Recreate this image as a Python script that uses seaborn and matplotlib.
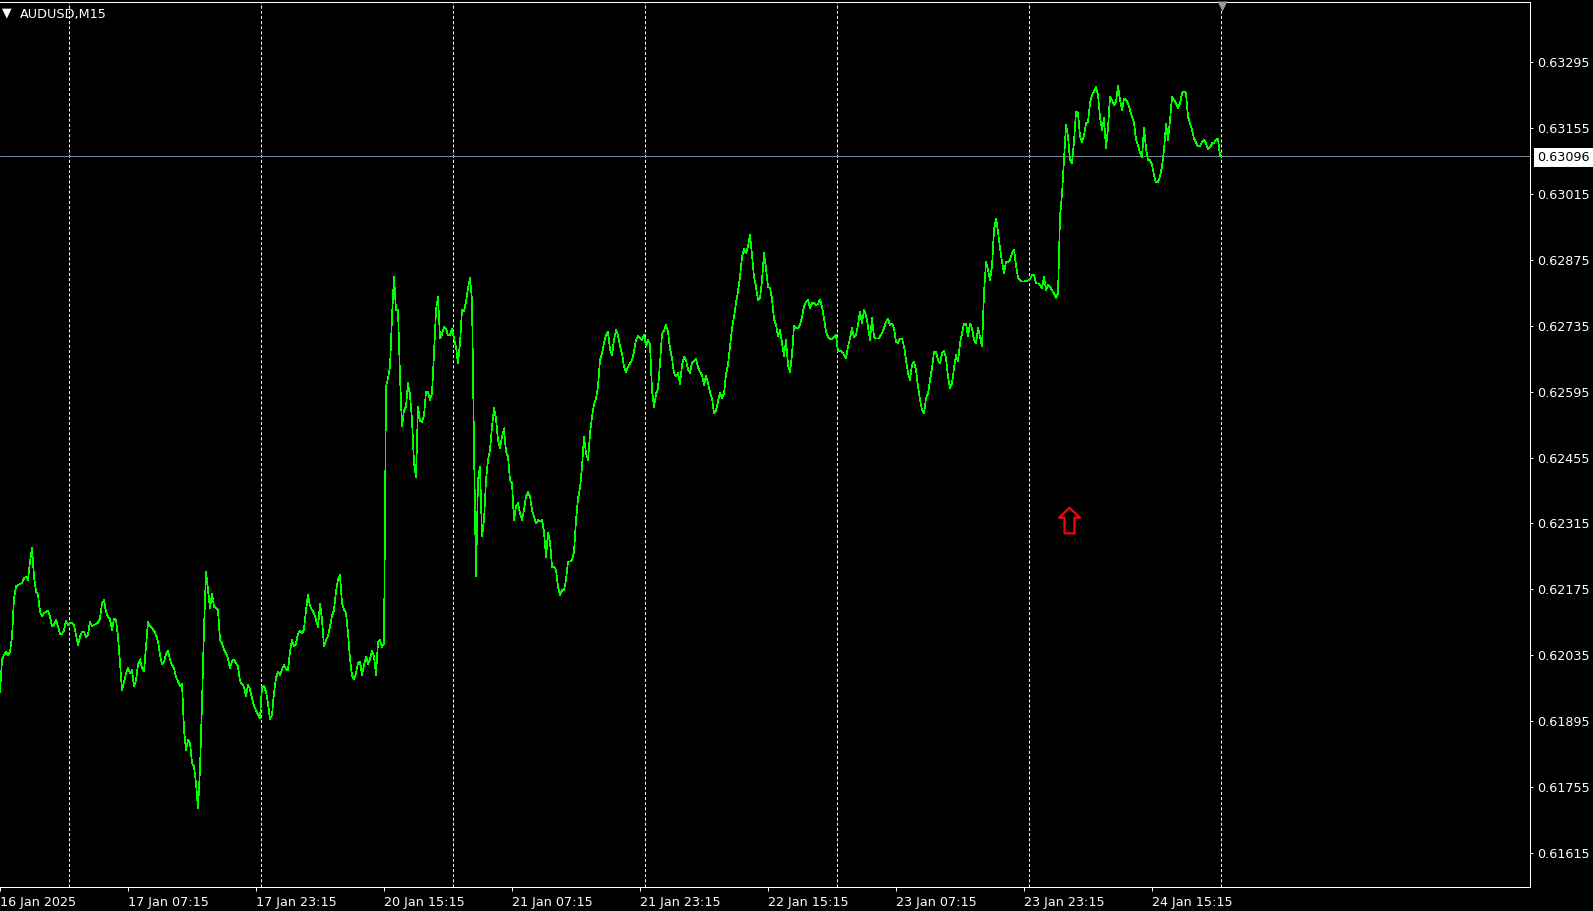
import numpy as np
import pandas as pd
import matplotlib
matplotlib.use("Agg")
import matplotlib.pyplot as plt
import matplotlib.transforms as mtransforms
from matplotlib.path import Path
import seaborn as sns

# ---------------- data ----------------
symbol = "AUDUSD,M15"

# M15 closes, one list per trading day
jan16 = [0.61957, 0.62025, 0.62035, 0.62042, 0.62035, 0.62042, 0.62074, 0.62156, 0.62181, 0.62184,
         0.62186, 0.62188, 0.62198, 0.62202, 0.62195, 0.62234, 0.62262, 0.62202, 0.62170, 0.62163,
         0.62127, 0.62118, 0.62124, 0.62127, 0.62130, 0.62117, 0.62096, 0.62099, 0.62111, 0.62096,
         0.62079, 0.62080, 0.62087, 0.62108, 0.62099]
jan17 = [0.62103, 0.62103, 0.62099, 0.62078, 0.62057,
         0.62074, 0.62085, 0.62085, 0.62074, 0.62078, 0.62106, 0.62097, 0.62099, 0.62101, 0.62104,
         0.62113, 0.62145, 0.62152, 0.62127, 0.62117, 0.62111, 0.62088, 0.62113, 0.62110, 0.62074,
         0.62018, 0.61961, 0.61979, 0.61996, 0.62007, 0.61996, 0.62003, 0.61968, 0.61982, 0.62014,
         0.62026, 0.62007, 0.62000, 0.62053, 0.62106, 0.62096, 0.62092, 0.62087, 0.62078, 0.62064,
         0.62035, 0.62015, 0.62021, 0.62037, 0.62045, 0.62025, 0.62014, 0.62007, 0.61989, 0.61979,
         0.61969, 0.61974, 0.61876, 0.61833, 0.61855, 0.61848, 0.61805, 0.61798, 0.61763, 0.61709,
         0.61794, 0.61933, 0.62092, 0.62212, 0.62173, 0.62135, 0.62166, 0.62138, 0.62135, 0.62131,
         0.62067, 0.62060, 0.62047, 0.62039, 0.62028, 0.62007, 0.62023, 0.62025, 0.62018, 0.62011,
         0.61979, 0.61974, 0.61968, 0.61947, 0.61972, 0.61962, 0.61943, 0.61927, 0.61918, 0.61908,
         0.61901]
jan20 = [0.61968, 0.61969, 0.61957, 0.61932, 0.61899, 0.61908, 0.61955, 0.61986, 0.62000,
         0.61993, 0.62005, 0.62014, 0.62005, 0.62003, 0.62042, 0.62067, 0.62053, 0.62060, 0.62080,
         0.62087, 0.62081, 0.62090, 0.62131, 0.62163, 0.62139, 0.62131, 0.62124, 0.62110, 0.62095,
         0.62145, 0.62110, 0.62053, 0.62067, 0.62076, 0.62095, 0.62118, 0.62131, 0.62170, 0.62196,
         0.62205, 0.62145, 0.62132, 0.62125, 0.62081, 0.62028, 0.61991, 0.61984, 0.61996, 0.62019,
         0.62021, 0.61993, 0.62014, 0.62032, 0.62016, 0.62026, 0.62045, 0.62032, 0.61993, 0.62064,
         0.62067, 0.62052, 0.62060, 0.62606, 0.62623, 0.62648, 0.62754, 0.62839, 0.62768, 0.62768,
         0.62627, 0.62521, 0.62556, 0.62563, 0.62613, 0.62588, 0.62535, 0.62443, 0.62414, 0.62563,
         0.62533, 0.62531, 0.62545, 0.62595, 0.62595, 0.62577, 0.62591, 0.62676, 0.62768, 0.62797,
         0.62708, 0.62717, 0.62733, 0.62729, 0.62715, 0.62715, 0.62729]
jan21 = [0.62708, 0.62690, 0.62655,
         0.62698, 0.62768, 0.62765, 0.62786, 0.62815, 0.62836, 0.62790, 0.62478, 0.62202, 0.62407,
         0.62436, 0.62287, 0.62322, 0.62407, 0.62450, 0.62471, 0.62521, 0.62560, 0.62538, 0.62492,
         0.62474, 0.62499, 0.62517, 0.62467, 0.62457, 0.62407, 0.62400, 0.62322, 0.62351, 0.62358,
         0.62336, 0.62322, 0.62343, 0.62372, 0.62382, 0.62372, 0.62343, 0.62329, 0.62315, 0.62322,
         0.62319, 0.62322, 0.62297, 0.62244, 0.62294, 0.62276, 0.62223, 0.62223, 0.62216, 0.62180,
         0.62163, 0.62173, 0.62173, 0.62195, 0.62234, 0.62234, 0.62237, 0.62255, 0.62322, 0.62368,
         0.62390, 0.62436, 0.62499, 0.62464, 0.62450, 0.62506, 0.62542, 0.62567, 0.62581, 0.62606,
         0.62662, 0.62676, 0.62698, 0.62715, 0.62722, 0.62684, 0.62673, 0.62705, 0.62726, 0.62715,
         0.62691, 0.62676, 0.62648, 0.62637, 0.62648, 0.62655, 0.62662, 0.62680, 0.62705, 0.62713,
         0.62708, 0.62705, 0.62715]
jan22 = [0.62692, 0.62705, 0.62696, 0.62598, 0.62563, 0.62590, 0.62602,
         0.62655, 0.62718, 0.62724, 0.62737, 0.62722, 0.62687, 0.62666, 0.62634, 0.62627, 0.62634,
         0.62611, 0.62652, 0.62669, 0.62662, 0.62642, 0.62635, 0.62657, 0.62659, 0.62664, 0.62647,
         0.62637, 0.62630, 0.62609, 0.62628, 0.62613, 0.62593, 0.62581, 0.62549, 0.62555, 0.62574,
         0.62593, 0.62581, 0.62591, 0.62632, 0.62652, 0.62692, 0.62730, 0.62754, 0.62784, 0.62808,
         0.62839, 0.62882, 0.62898, 0.62889, 0.62903, 0.62928, 0.62885, 0.62839, 0.62818, 0.62790,
         0.62793, 0.62832, 0.62889, 0.62857, 0.62818, 0.62815, 0.62793, 0.62749, 0.62737, 0.62712,
         0.62726, 0.62698, 0.62671, 0.62705, 0.62652, 0.62637, 0.62673, 0.62735, 0.62730, 0.62730,
         0.62737, 0.62754, 0.62776, 0.62786, 0.62790, 0.62772, 0.62783, 0.62784, 0.62779, 0.62781,
         0.62791, 0.62776, 0.62751, 0.62722, 0.62712, 0.62706, 0.62706, 0.62712, 0.62715]
jan23 = [0.62680,
         0.62682, 0.62680, 0.62673, 0.62666, 0.62691, 0.62708, 0.62730, 0.62710, 0.62715, 0.62737,
         0.62765, 0.62740, 0.62769, 0.62758, 0.62733, 0.62705, 0.62751, 0.62712, 0.62708, 0.62708,
         0.62712, 0.62719, 0.62730, 0.62744, 0.62749, 0.62737, 0.62740, 0.62730, 0.62701, 0.62699,
         0.62708, 0.62708, 0.62691, 0.62662, 0.62634, 0.62620, 0.62652, 0.62659, 0.62641, 0.62606,
         0.62577, 0.62556, 0.62549, 0.62581, 0.62591, 0.62620, 0.62645, 0.62680, 0.62680, 0.62662,
         0.62655, 0.62676, 0.62682, 0.62666, 0.62627, 0.62602, 0.62613, 0.62645, 0.62673, 0.62659,
         0.62698, 0.62719, 0.62740, 0.62740, 0.62712, 0.62740, 0.62730, 0.62705, 0.62698, 0.62730,
         0.62712, 0.62691, 0.62804, 0.62871, 0.62854, 0.62832, 0.62861, 0.62939, 0.62963, 0.62935,
         0.62900, 0.62871, 0.62846, 0.62871, 0.62871, 0.62875, 0.62889, 0.62897, 0.62864, 0.62836,
         0.62832, 0.62829, 0.62829, 0.62830, 0.62831]
jan24 = [0.62834, 0.62843, 0.62843, 0.62825, 0.62825,
         0.62822, 0.62815, 0.62839, 0.62811, 0.62822, 0.62818, 0.62811, 0.62804, 0.62793, 0.62804,
         0.62967, 0.63015, 0.63087, 0.63162, 0.63137, 0.63087, 0.63080, 0.63126, 0.63190, 0.63187,
         0.63137, 0.63126, 0.63140, 0.63165, 0.63169, 0.63208, 0.63226, 0.63233, 0.63243, 0.63226,
         0.63179, 0.63151, 0.63176, 0.63112, 0.63155, 0.63222, 0.63215, 0.63204, 0.63211, 0.63245,
         0.63215, 0.63194, 0.63218, 0.63215, 0.63208, 0.63194, 0.63179, 0.63167, 0.63130, 0.63119,
         0.63102, 0.63094, 0.63155, 0.63112, 0.63087, 0.63087, 0.63077, 0.63055, 0.63040, 0.63041,
         0.63052, 0.63073, 0.63109, 0.63165, 0.63130, 0.63172, 0.63221, 0.63215, 0.63208, 0.63197,
         0.63208, 0.63229, 0.63233, 0.63229, 0.63179, 0.63165, 0.63151, 0.63133, 0.63124, 0.63117,
         0.63117, 0.63126, 0.63131, 0.63123, 0.63110, 0.63114, 0.63123, 0.63124, 0.63130, 0.63133,
         0.63096]

session_starts = ["2025-01-16 15:15", "2025-01-17 00:00", "2025-01-20 00:00", "2025-01-21 00:00",
                  "2025-01-22 00:00", "2025-01-23 00:00", "2025-01-24 00:00"]
sessions = [jan16, jan17, jan20, jan21, jan22, jan23, jan24]

tick_times = ["2025-01-16 15:15", "2025-01-17 07:15", "2025-01-17 23:15", "2025-01-20 15:15",
              "2025-01-21 07:15", "2025-01-21 23:15", "2025-01-22 15:15", "2025-01-23 07:15",
              "2025-01-23 23:15", "2025-01-24 15:15"]
tick_labels = ["16 Jan 2025", "17 Jan 07:15", "17 Jan 23:15", "20 Jan 15:15", "21 Jan 07:15",
               "21 Jan 23:15", "22 Jan 15:15", "23 Jan 07:15", "23 Jan 23:15", "24 Jan 15:15"]

price_ticks = [0.61615, 0.61755, 0.61895, 0.62035, 0.62175, 0.62315, 0.62455,
               0.62595, 0.62735, 0.62875, 0.63015, 0.63155, 0.63295]
last_price = 0.63096
arrow_time = "2025-01-24 05:00"
arrow_price = 0.62323
price_min, price_max = 0.615421, 0.634232
visible_bars = 765

# ---------------- build frame ----------------
times = pd.DatetimeIndex(np.concatenate([
    pd.date_range(start, periods=len(vals), freq="15min").values
    for start, vals in zip(session_starts, sessions)]))
close = np.concatenate([np.asarray(v, dtype=float) for v in sessions])
df = pd.DataFrame({"bar": np.arange(len(close)), "time": times, "close": close})
n_bars = len(df)
day_breaks = list(np.cumsum([len(s) for s in sessions]))  # starts of next days

# ---------------- style ----------------
sns.set_theme(style="dark", rc={"axes.facecolor": "black", "figure.facecolor": "black",
                                "lines.scale_dashes": False})
plt.rcParams["font.family"] = ["DejaVu Sans"]

W, H = 1593, 911
fig = plt.figure(figsize=(W / 100, H / 100), dpi=100, facecolor="black")
ax = fig.add_axes([0, 24 / H, 1530 / W, 885 / H], facecolor="black")

px = 72 / 100  # one pixel in points

# day separators
for b in day_breaks:
    ax.axvline(b - 0.3, color="white", lw=px, ls=(0, (2.2, 1.5)), zorder=1)

# bid line
ax.axhline(last_price, color="#778899", lw=px, zorder=2)

# price line
sns.lineplot(data=df, x="bar", y="close", ax=ax, color="#00ff00", lw=0.5,
             estimator=None, zorder=3)
price_line = ax.lines[-1]
price_line.set_antialiased(False)
price_line.set_linewidth(0.5)

# arrow object (hollow up arrow)
arrow_bar = times.get_indexer([pd.Timestamp(arrow_time)])[0]
arrow_verts = [(0, 12.8), (10.5, 2.8), (5, 2.8), (5, -12.8), (-5, -12.8), (-5, 2.8),
               (-10.5, 2.8), (0, 12.8)]
arrow_path = Path(arrow_verts, closed=True)
ax.plot([arrow_bar - 0.3], [arrow_price], marker=arrow_path, ms=18.4, mfc="none",
        mec="#ff0000", mew=1.6, ls="none", zorder=4)

# axes limits
ax.set_xlim(0, visible_bars)
ax.set_ylim(price_min, price_max)
ax.set_xlabel("")
ax.set_ylabel("")
ax.grid(False)

# spines
for side in ["top", "right", "bottom"]:
    ax.spines[side].set_visible(True)
    ax.spines[side].set_color("white")
    ax.spines[side].set_linewidth(px)
ax.spines["left"].set_visible(False)

# y ticks on the right
ax.yaxis.tick_right()
ax.set_yticks(price_ticks)
ax.set_yticklabels([f"{p:.5f}" for p in price_ticks])
ax.tick_params(axis="y", colors="white", length=2.5, width=px, pad=2.6, labelsize=9.2,
               direction="out", right=True, left=False)

# x ticks
tick_pos = times.get_indexer(pd.to_datetime(tick_times))
ax.set_xticks(tick_pos)
ax.set_xticklabels(tick_labels)
for lbl in ax.get_xticklabels():
    lbl.set_horizontalalignment("left")
ax.tick_params(axis="x", colors="white", length=3, width=px, pad=3.8, labelsize=9.2,
               direction="out", bottom=True)

# last-price label on the axis
blend = mtransforms.blended_transform_factory(ax.transAxes, ax.transData)
ax.text(1 + 7 / 1530, last_price, f"{last_price:.5f}", transform=blend, ha="left",
        va="center_baseline", fontsize=9.2, color="black", zorder=6, clip_on=False,
        bbox=dict(boxstyle="square,pad=0.25", facecolor="white", edgecolor="none"))

# chart-shift marker
blend2 = mtransforms.blended_transform_factory(ax.transData, ax.transAxes)
ax.plot([n_bars], [1 - 4 / 885], marker="v", ms=6.5, color="#9a9a9a", mec="none",
        transform=blend2, clip_on=False, zorder=6)

# symbol title
fig.text(2 / W, 1 - 13 / H, "\u25BC", color="white", fontsize=9, va="center", ha="left")
fig.text(20 / W, 1 - 14.5 / H, symbol, color="white", fontsize=9.2, va="center", ha="left")

fig.savefig("out.png", dpi=100, facecolor="black")
